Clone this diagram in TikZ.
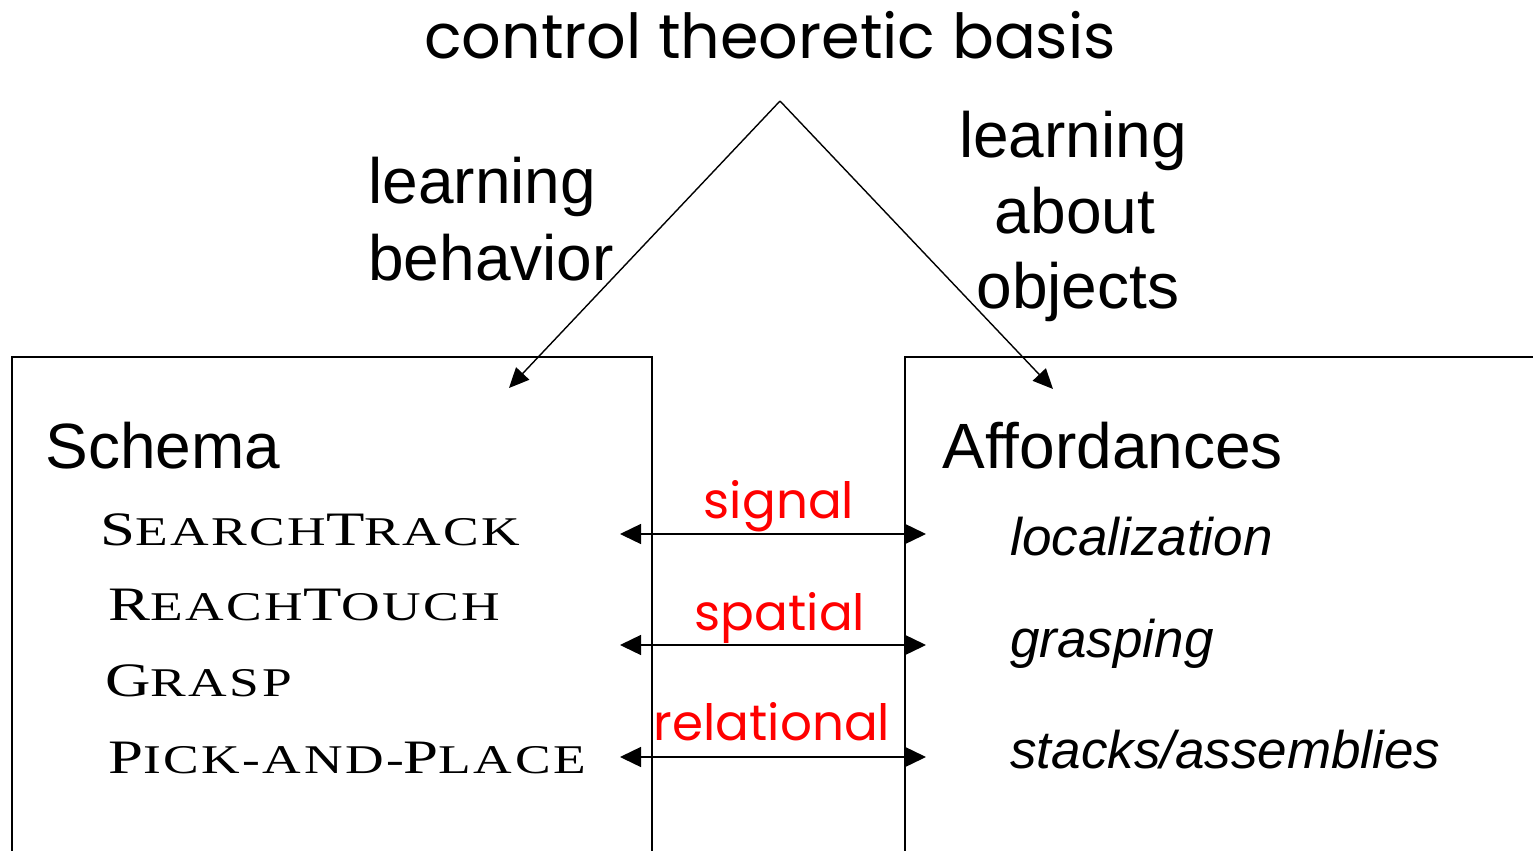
\documentclass[tikz,border=0pt]{standalone}
\usepackage{fontspec}
\setmainfont{Liberation Sans}
\newfontfamily\handfont{Poppins}
\newfontfamily\copper[FakeStretch=1.31,LetterSpace=6]{Liberation Serif}
\usetikzlibrary{arrows.meta}

% small-caps style for the schema names
\newcommand\capbig[1]{{\fontsize{24}{24}\copper #1}}
\newcommand\capsmall[1]{{\fontsize{20.4}{20.4}\copper #1}}

\tikzset{
  txt/.style={inner sep=0pt, anchor=base west},
  ctxt/.style={inner sep=0pt, anchor=base},
  boxline/.style={line width=0.9pt, black},
  flow/.style={line width=0.7pt, -{Triangle[length=10pt,width=9pt]}},
  link/.style={line width=0.7pt, {Triangle[length=10.5pt,width=10pt]}-{Triangle[length=10.5pt,width=10pt]}},
  armfont/.style={font=\fontsize{32}{38}\selectfont},
  redlab/.style={ctxt, text=red, font=\handfont\fontsize{25}{30}\selectfont},
  afford/.style={txt, font=\itshape\fontsize{26.5}{30}\selectfont},
}

\begin{document}
\begin{tikzpicture}[x=0.5pt, y=-0.5pt]
  \useasboundingbox (0,0) rectangle (1533,851);

  % title and the two branches
  \node[ctxt, font=\handfont\fontsize{31}{36}\selectfont] (title) at (770,58) {control theoretic basis};
  \coordinate (apex) at (780,101);
  \coordinate (lefttip) at (509,388);
  \coordinate (righttip) at (1053,389);
  \draw[flow] (apex) -- (lefttip);
  \draw[flow] (apex) -- (righttip);

  \node[txt, armfont] (lb1) at (368,203) {learning};
  \node[txt, armfont] (lb2) at (368,280) {behavior};
  \node[ctxt, armfont] (lo1) at (1073,157) {learning};
  \node[ctxt, armfont] (lo2) at (1075,233) {about};
  \node[ctxt, armfont] (lo3) at (1078,308) {objects};

  % the two boxes, open at the bottom
  \coordinate (sbl) at (12,851);
  \coordinate (stl) at (12,357);
  \coordinate (str) at (652,357);
  \coordinate (sbr) at (652,851);
  \draw[boxline] (sbl) -- (stl) -- (str) -- (sbr);
  \coordinate (abl) at (905,851);
  \coordinate (atl) at (905,357);
  \coordinate (atr) at (1533,357);
  \draw[boxline] (abl) -- (atl) -- (atr);

  % schema column
  \node[txt, font=\fontsize{32}{36}\selectfont] (schema) at (45,468) {Schema};
  \node[txt] (s1) at (100,545) {\capbig{S}\capsmall{EARCH}\capbig{T}\capsmall{RACK}};
  \node[txt] (s2) at (108,620) {\capbig{R}\capsmall{EACH}\capbig{T}\capsmall{OUCH}};
  \node[txt] (s3) at (105,696) {\capbig{G}\capsmall{RASP}};
  \node[txt] (s4) at (108,773) {\capbig{P}\capsmall{ICK-AND-}\capbig{P}\capsmall{LACE}};

  % affordance column
  \node[txt, font=\fontsize{32}{36}\selectfont] (aff) at (942,468) {Affordances};
  \node[afford] (a1) at (1010,555) {localization};
  \node[afford] (a2) at (1010,657) {grasping};
  \node[afford] (a3) at (1010,768) {stacks/assemblies};

  % links between the columns
  \coordinate (l1) at (620,534);  \coordinate (r1) at (926,534);
  \coordinate (l2) at (620,645);  \coordinate (r2) at (926,645);
  \coordinate (l3) at (620,757);  \coordinate (r3) at (926,757);
  \draw[link] (l1) -- (r1);
  \draw[link] (l2) -- (r2);
  \draw[link] (l3) -- (r3);
  \node[redlab] (sig) at (779,518) {signal};
  \node[redlab] (spa) at (780,630) {spatial};
  \node[redlab] (rel) at (772,740) {relational};
\end{tikzpicture}
\end{document}
